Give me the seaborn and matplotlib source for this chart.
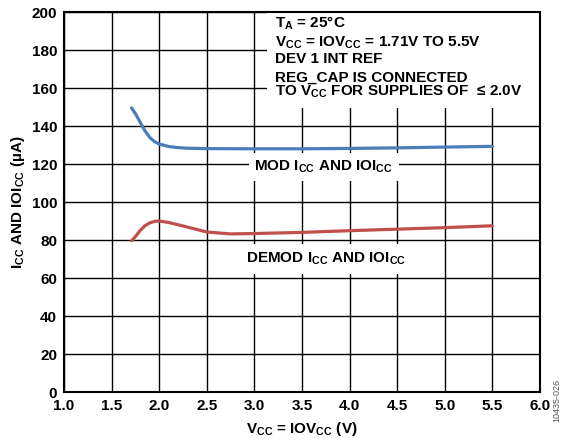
import matplotlib
matplotlib.use("Agg")
import matplotlib.pyplot as plt
from matplotlib.patches import Rectangle
import seaborn as sns
import pandas as pd

# Supply voltage (V) and supply current (uA) for the two modes
mod_vcc = [1.71, 1.75, 1.80, 1.85, 1.90, 1.95, 2.00, 2.10, 2.20, 2.30, 2.50,
           3.00, 3.50, 4.00, 4.50, 5.00, 5.50]
mod_icc = [149.5, 146.5, 142.0, 137.5, 134.0, 131.8, 130.5, 129.2, 128.6, 128.3, 128.1,
           128.0, 128.0, 128.2, 128.5, 128.9, 129.3]

demod_vcc = [1.71, 1.75, 1.80, 1.85, 1.90, 1.95, 2.00, 2.10, 2.25, 2.50, 2.75,
             3.00, 3.50, 4.00, 4.50, 5.00, 5.50]
demod_icc = [79.6, 81.8, 85.0, 87.5, 89.0, 89.8, 90.0, 89.2, 87.4, 84.2, 83.2,
             83.4, 84.0, 84.9, 85.7, 86.5, 87.5]

x_ticks = [1.0, 1.5, 2.0, 2.5, 3.0, 3.5, 4.0, 4.5, 5.0, 5.5, 6.0]
y_ticks = [0, 20, 40, 60, 80, 100, 120, 140, 160, 180, 200]

note_lines = [
    r"T$_{A}$ = 25°C",
    r"V$_{CC}$ = IOV$_{CC}$ = 1.71V TO 5.5V",
    "DEV 1 INT REF",
    "REG_CAP IS CONNECTED",
    r"TO V$_{CC}$ FOR SUPPLIES OF  ≤ 2.0V",
]
note_baselines = [191.6, 181.6, 173.0, 163.3, 155.8]

sns.set_theme(style="white")
plt.rcParams.update({
    "font.family": ["Liberation Sans", "DejaVu Sans"],
    "font.weight": "bold",
    "text.color": "black",
    "axes.labelcolor": "black",
    "xtick.color": "black",
    "ytick.color": "black",
    "mathtext.fontset": "custom",
    "mathtext.rm": "Liberation Sans:bold",
    "mathtext.it": "Liberation Sans:bold",
    "mathtext.bf": "Liberation Sans:bold",
    "mathtext.default": "regular",
})

df = pd.concat([
    pd.DataFrame({"vcc": mod_vcc, "icc": mod_icc, "mode": "MOD"}),
    pd.DataFrame({"vcc": demod_vcc, "icc": demod_icc, "mode": "DEMOD"}),
])

fig = plt.figure(figsize=(5.66, 4.44), dpi=100)
ax = fig.add_axes([64 / 566, 52 / 444, 476 / 566, 380 / 444])

sns.lineplot(data=df, x="vcc", y="icc", hue="mode",
             palette={"MOD": "#4a7ebb", "DEMOD": "#c0504d"},
             linewidth=2.3, legend=False, ax=ax, zorder=4)

FS = 11
ax.set_xlim(1.0, 6.0)
ax.set_ylim(0, 200)
ax.set_xticks(x_ticks)
ax.set_yticks(y_ticks)
ax.set_xticklabels([f"{v:.1f}" for v in x_ticks], fontsize=FS, fontweight="bold")
ax.set_yticklabels([str(v) for v in y_ticks], fontsize=FS, fontweight="bold")
ax.tick_params(length=0, pad=5, colors="black")
ax.grid(True, color="black", linewidth=1.0, zorder=1)
ax.set_axisbelow(True)
for s in ax.spines.values():
    s.set_color("black")
    s.set_linewidth(1.5)
    s.set_zorder(6)

ax.set_xlabel(r"V$_{CC}$ = IOV$_{CC}$ (V)", fontsize=FS, fontweight="bold", labelpad=5)
ax.set_ylabel(r"I$_{CC}$ AND IOI$_{CC}$ (µA)", fontsize=FS, fontweight="bold", labelpad=3)

# Conditions block in the upper right corner
ax.add_patch(Rectangle((3.13, 149.5), 2.87, 50.5, facecolor="white",
                       edgecolor="none", zorder=3))
for line, yb in zip(note_lines, note_baselines):
    ax.text(3.22, yb, line, fontsize=FS, fontweight="bold", ha="left",
            va="baseline", zorder=5)

# Curve labels
ax.text(3.73, 118.5, r"MOD I$_{CC}$ AND IOI$_{CC}$", fontsize=FS, fontweight="bold",
        ha="center", va="center", zorder=5,
        bbox=dict(facecolor="white", edgecolor="none", pad=4))
ax.text(3.75, 70.0, r"DEMOD I$_{CC}$ AND IOI$_{CC}$", fontsize=FS, fontweight="bold",
        ha="center", va="center", zorder=5,
        bbox=dict(facecolor="white", edgecolor="none", pad=5))

fig.text(557 / 566, 1 - 400 / 444, "10435-026", rotation=90, fontsize=6.5,
         fontweight="normal", color="#555555", ha="center", va="center")

fig.savefig("out.png", dpi=100)
